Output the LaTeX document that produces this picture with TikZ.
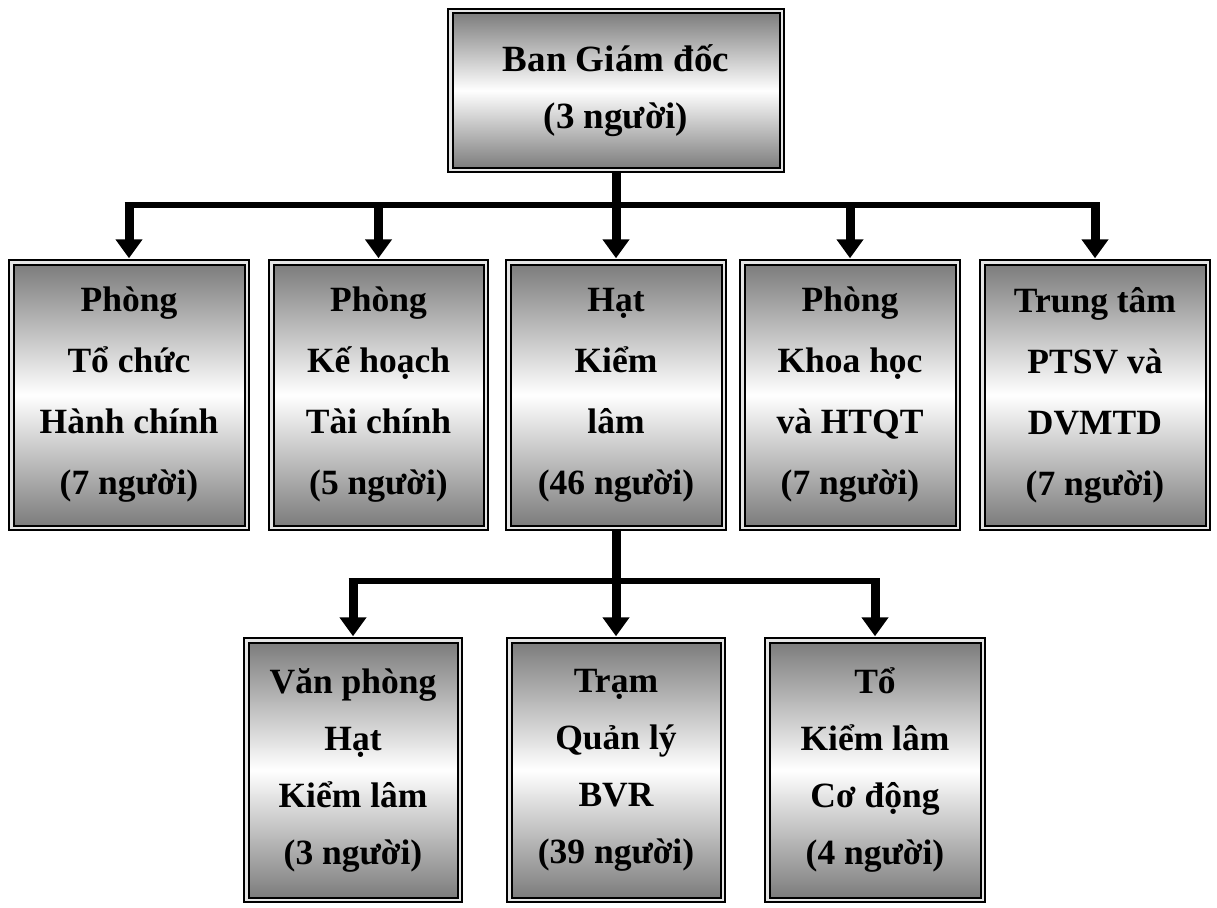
\documentclass[tikz,border=0pt]{standalone}
\usepackage{fontspec}
\setmainfont{Liberation Serif}
\usetikzlibrary{arrows.meta}
\tikzset{
  orgbox/.style={draw=black, line width=2pt, double=gray!20, double distance=2.5pt,
    top color=black!52, bottom color=black!52, middle color=white,
    inner sep=0pt, align=center, font=\bfseries\fontsize{35.5}{61}\selectfont},
  topbox/.style={orgbox, font=\bfseries\fontsize{37}{57}\selectfont},
  lowbox/.style={orgbox, font=\bfseries\fontsize{35.5}{57}\selectfont},
  stem/.style={line width=9pt, draw=black},
  bar/.style={line width=6pt, draw=black},
  tipped/.style={-{Triangle[width=26pt,length=19pt]}, shorten >=3pt},
}
\begin{document}
\begin{tikzpicture}[x=1pt,y=-1pt]
\useasboundingbox (0,0) rectangle (1217,907);
% boxes
\node[topbox, minimum width=331.5pt, minimum height=158.5pt] (top) at (616,90.5) {Ban Giám đốc\\(3 người)};
\node[orgbox, minimum width=235.5pt, minimum height=265.5pt] (b1) at (129,395) {Phòng\\Tổ chức\\Hành chính\\(7 người)};
\node[orgbox, minimum width=214.5pt, minimum height=265.5pt] (b2) at (378.5,395) {Phòng\\Kế hoạch\\Tài chính\\(5 người)};
\node[orgbox, minimum width=215.5pt, minimum height=265.5pt] (b3) at (616,395) {Hạt\\Kiểm\\lâm\\(46 người)};
\node[orgbox, minimum width=215.5pt, minimum height=265.5pt] (b4) at (850,395) {Phòng\\Khoa học\\và HTQT\\(7 người)};
\node[orgbox, minimum width=225.5pt, minimum height=265.5pt] (b5) at (1095,395) {Trung tâm\\PTSV và\\DVMTD\\(7 người)};
\node[lowbox, minimum width=213.5pt, minimum height=259.5pt] (c1) at (353,770) {Văn phòng\\Hạt\\Kiểm lâm\\(3 người)};
\node[lowbox, minimum width=213.5pt, minimum height=259.5pt] (c2) at (616,770) {Trạm\\Quản lý\\BVR\\(39 người)};
\node[lowbox, minimum width=215.5pt, minimum height=259.5pt] (c3) at (875,770) {Tổ\\Kiểm lâm\\Cơ động\\(4 người)};
% junctions
\coordinate (j1) at (616,205);
\coordinate (j2) at (616,581);
% first level connectors
\draw[stem] (top.south) -- (j1);
\draw[bar] ([xshift=-4.5pt]b1.north |- j1) -- ([xshift=4.5pt]b5.north |- j1);
\foreach \b in {b1,b2,b3,b4,b5}
  \draw[stem, tipped] ([yshift=3pt]\b.north |- j1) -- (\b.north);
% second level connectors
\draw[stem] (b3.south) -- (j2);
\draw[bar] ([xshift=-4.5pt]c1.north |- j2) -- ([xshift=4.5pt]c3.north |- j2);
\foreach \c in {c1,c2,c3}
  \draw[stem, tipped] ([yshift=3pt]\c.north |- j2) -- (\c.north);
\end{tikzpicture}
\end{document}
